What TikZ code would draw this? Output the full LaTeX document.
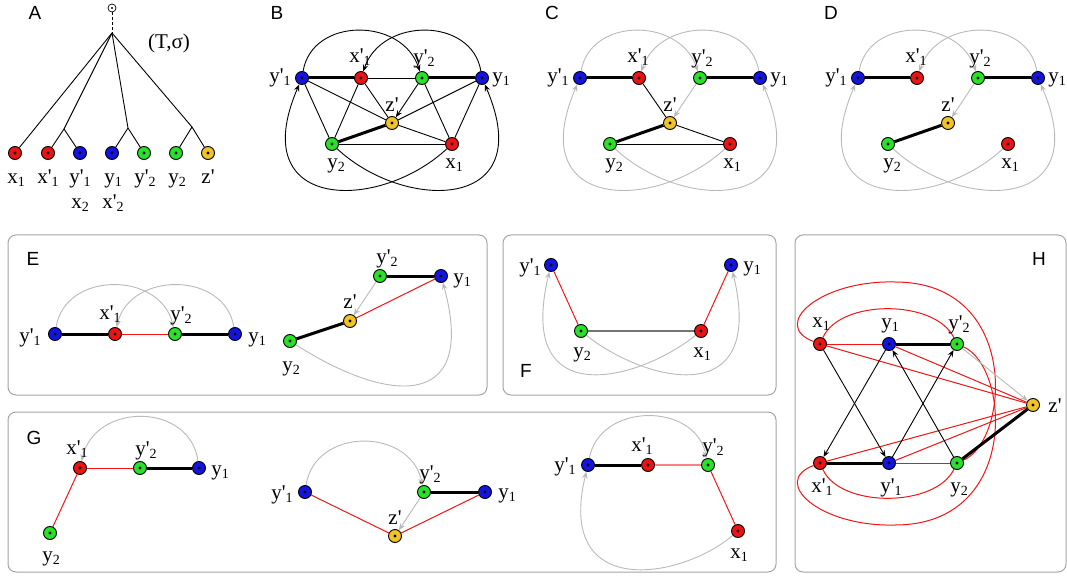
\documentclass[tikz,border=0pt]{standalone}
\usepackage{fontspec}
\setmainfont{Liberation Serif}
\newfontfamily\lettfont{Liberation Sans}
\usetikzlibrary{arrows.meta,backgrounds}

\definecolor{cnred}{RGB}{235,20,20}
\definecolor{cnblue}{RGB}{20,20,225}
\definecolor{cngreen}{RGB}{40,225,40}
\definecolor{cnyellow}{RGB}{240,195,40}
\definecolor{cegray}{RGB}{185,185,185}
\definecolor{cered}{RGB}{245,20,20}
\definecolor{celred}{RGB}{250,130,130}
\definecolor{cdgray}{RGB}{115,115,115}
\definecolor{cbgray}{RGB}{165,165,165}

\newcommand{\sbx}[1]{\raisebox{-3pt}{\fontsize{14}{14}\selectfont #1}}
\newcommand{\vlab}[2]{#1\sbx{#2}}
\newcommand{\vlabp}[2]{#1\textquotesingle\sbx{#2}}

\tikzset{
  vtx/.style={circle, draw=black, line width=0.9pt, minimum size=13pt, inner sep=0pt,
    path picture={\fill[black] (path picture bounding box.center) circle (1.6pt);}},
  vr/.style={vtx, fill=cnred},
  vb/.style={vtx, fill=cnblue},
  vg/.style={vtx, fill=cngreen},
  vy/.style={vtx, fill=cnyellow},
  rootv/.style={circle, draw=black, line width=0.7pt, minimum size=8pt, inner sep=0pt,
    path picture={\fill[black] (path picture bounding box.center) circle (1.2pt);}},
  lbl/.style={font=\fontsize{21}{24}\selectfont, inner sep=0pt, text height=10pt, text depth=0pt},
  letter/.style={font=\lettfont\fontsize{19}{22}\selectfont, inner sep=0pt},
  ethin/.style={line width=0.9pt, draw=black},
  ethick/.style={line width=3pt, draw=black},
  ered/.style={line width=1pt, draw=cered},
  elred/.style={line width=1.5pt, draw=celred},
  egr/.style={line width=0.9pt, draw=cegray},
  edg/.style={line width=2pt, draw=cdgray},
  arr/.style={-{Stealth[length=7pt,width=5.5pt,inset=2.5pt]}},
  panel/.style={draw=cbgray, line width=1pt, rounded corners=8pt}
}

\begin{document}
\begin{tikzpicture}[x=1pt,y=-1pt]
\useasboundingbox (0,0) rectangle (1067,577);

% ---------------- letters
\node[letter] (LA) at (35,13) {A};
\node[letter] (LB) at (277,13) {B};
\node[letter] (LC) at (552,13) {C};
\node[letter] (LD) at (831,13) {D};
\node[letter] (LE) at (33,259) {E};
\node[letter] (LF) at (526,371) {F};
\node[letter] (LG) at (34,438) {G};
\node[letter] (LH) at (1039,259) {H};

% ---------------- panel A
\node[rootv] (Aroot) at (112,8) {};
\coordinate (Abr) at (112,33);
\coordinate (Ap1) at (64,129);
\coordinate (Ap2) at (128,128);
\coordinate (Ap3) at (192,127);
\node[vr] (ALx1) at (15,153) {};
\node[vr] (ALxp1) at (48,153) {};
\node[vb] (ALyp1) at (80,153) {};
\node[vb] (ALy1) at (112,153) {};
\node[vg] (ALyp2) at (144,153) {};
\node[vg] (ALy2) at (176,153) {};
\node[vy] (ALz) at (208,153) {};
\node[lbl] (ATx1) at (16,179) {\vlab{x}{1}};
\node[lbl] (ATxp1) at (48,179) {\vlabp{x}{1}};
\node[lbl] (ATyp1) at (80,179) {\vlabp{y}{1}};
\node[lbl] (ATy1) at (113,179) {\vlab{y}{1}};
\node[lbl] (ATyp2) at (145,179) {\vlabp{y}{2}};
\node[lbl] (ATy2) at (177,179) {\vlab{y}{2}};
\node[lbl] (ATz) at (208,179) {z\textquotesingle};
\node[lbl] (ATx2) at (80,204) {\vlab{x}{2}};
\node[lbl] (ATxp2) at (113,204) {\vlabp{x}{2}};
\node[lbl] (ATts) at (169,44) {(T,σ)};

% ---------------- panels B, C, D nodes
\node[vb] (Byp1) at (302,78) {};
\node[vr] (Bxp1) at (361,78) {};
\node[vg] (Byp2) at (422,78) {};
\node[vb] (By1) at (482,78) {};
\node[vy] (Bz) at (392,123) {};
\node[vg] (By2) at (332,144) {};
\node[vr] (Bx1) at (452,144) {};
\node[lbl] (BTyp1) at (280,78) {\vlabp{y}{1}};
\node[lbl] (BTxp1) at (360,58) {\vlabp{x}{1}};
\node[lbl] (BTyp2) at (424,59) {\vlabp{y}{2}};
\node[lbl] (BTy1) at (501,78) {\vlab{y}{1}};
\node[lbl] (BTz) at (392,107) {z\textquotesingle};
\node[lbl] (BTy2) at (336,164) {\vlab{y}{2}};
\node[lbl] (BTx1) at (454,164) {\vlab{x}{1}};

\begin{scope}[xshift=278pt]
\node[vb] (Cyp1) at (302,78) {};
\node[vr] (Cxp1) at (361,78) {};
\node[vg] (Cyp2) at (422,78) {};
\node[vb] (Cy1) at (482,78) {};
\node[vy] (Cz) at (392,123) {};
\node[vg] (Cy2) at (332,144) {};
\node[vr] (Cx1) at (452,144) {};
\node[lbl] (CTyp1) at (280,78) {\vlabp{y}{1}};
\node[lbl] (CTxp1) at (360,58) {\vlabp{x}{1}};
\node[lbl] (CTyp2) at (424,59) {\vlabp{y}{2}};
\node[lbl] (CTy1) at (501,78) {\vlab{y}{1}};
\node[lbl] (CTz) at (392,107) {z\textquotesingle};
\node[lbl] (CTy2) at (336,164) {\vlab{y}{2}};
\node[lbl] (CTx1) at (454,164) {\vlab{x}{1}};
\end{scope}

\begin{scope}[xshift=556pt]
\node[vb] (Dyp1) at (302,78) {};
\node[vr] (Dxp1) at (361,78) {};
\node[vg] (Dyp2) at (422,78) {};
\node[vb] (Dy1) at (482,78) {};
\node[vy] (Dz) at (392,123) {};
\node[vg] (Dy2) at (332,144) {};
\node[vr] (Dx1) at (452,144) {};
\node[lbl] (DTyp1) at (280,78) {\vlabp{y}{1}};
\node[lbl] (DTxp1) at (360,58) {\vlabp{x}{1}};
\node[lbl] (DTyp2) at (424,59) {\vlabp{y}{2}};
\node[lbl] (DTy1) at (501,78) {\vlab{y}{1}};
\node[lbl] (DTz) at (392,107) {z\textquotesingle};
\node[lbl] (DTy2) at (336,164) {\vlab{y}{2}};
\node[lbl] (DTx1) at (454,164) {\vlab{x}{1}};
\end{scope}

% ---------------- panel E
\node[vb] (Eyp1) at (55,334) {};
\node[vr] (Exp1) at (115,334) {};
\node[vg] (Eyp2) at (175,334) {};
\node[vb] (Ey1) at (235,334) {};
\node[lbl] (ETyp1) at (30,337) {\vlabp{y}{1}};
\node[lbl] (ETxp1) at (110,314) {\vlabp{x}{1}};
\node[lbl] (ETyp2) at (181,315) {\vlabp{y}{2}};
\node[lbl] (ETy1) at (257,337) {\vlab{y}{1}};

\node[vg] (Eryp2) at (380,276) {};
\node[vb] (Ery1) at (441,276) {};
\node[vy] (Erz) at (350,321) {};
\node[vg] (Ery2) at (290,341) {};
\node[lbl] (ERTyp2) at (387,258) {\vlabp{y}{2}};
\node[lbl] (ERTy1) at (462,278) {\vlab{y}{1}};
\node[lbl] (ERTz) at (350,303) {z\textquotesingle};
\node[lbl] (ERTy2) at (291,366) {\vlab{y}{2}};

% ---------------- panel F
\node[vb] (Fyp1) at (551,265) {};
\node[vb] (Fy1) at (731,265) {};
\node[vg] (Fy2) at (581,331) {};
\node[vr] (Fx1) at (701,331) {};
\node[lbl] (FTyp1) at (530,267) {\vlabp{y}{1}};
\node[lbl] (FTy1) at (752,266) {\vlab{y}{1}};
\node[lbl] (FTy2) at (582,352) {\vlab{y}{2}};
\node[lbl] (FTx1) at (702,352) {\vlab{x}{1}};

% ---------------- panel G
\node[vr] (Gxp1) at (80,468) {};
\node[vg] (Gyp2) at (140,468) {};
\node[vb] (Gy1) at (199,468) {};
\node[vg] (Gy2) at (50,533) {};
\node[lbl] (GTxp1) at (77,449) {\vlabp{x}{1}};
\node[lbl] (GTyp2) at (146,450) {\vlabp{y}{2}};
\node[lbl] (GTy1) at (220,470) {\vlab{y}{1}};
\node[lbl] (GTy2) at (51,556) {\vlab{y}{2}};

\node[vb] (Gbyp1) at (305,492) {};
\node[vg] (Gbyp2) at (424,492) {};
\node[vb] (Gby1) at (485,492) {};
\node[vy] (Gbz) at (395,536) {};
\node[lbl] (GbTyp1) at (282,494) {\vlabp{y}{1}};
\node[lbl] (GbTyp2) at (430,474) {\vlabp{y}{2}};
\node[lbl] (GbTy1) at (507,493) {\vlab{y}{1}};
\node[lbl] (GbTz) at (395,519) {z\textquotesingle};

\node[vb] (Gcyp1) at (588,465) {};
\node[vr] (Gcxp1) at (648,465) {};
\node[vg] (Gcyp2) at (708,465) {};
\node[vr] (Gcx1) at (738,531) {};
\node[lbl] (GcTyp1) at (565,466) {\vlabp{y}{1}};
\node[lbl] (GcTxp1) at (642,446) {\vlabp{x}{1}};
\node[lbl] (GcTyp2) at (713,447) {\vlabp{y}{2}};
\node[lbl] (GcTx1) at (739,553) {\vlab{x}{1}};

% ---------------- panel H
\node[vr] (Hx1) at (820,344) {};
\node[vb] (Hy1) at (889,344) {};
\node[vg] (Hyp2) at (957,344) {};
\node[vy] (Hz) at (1033,405) {};
\node[vr] (Hxp1) at (820,463) {};
\node[vb] (Hyp1) at (889,463) {};
\node[vg] (Hy2) at (957,463) {};
\coordinate (Htop) at (895,282);
\coordinate (Hbot) at (895,525);
\node[lbl] (HTx1) at (821,322) {\vlab{x}{1}};
\node[lbl] (HTy1) at (890,323) {\vlab{y}{1}};
\node[lbl] (HTyp2) at (959,324) {\vlabp{y}{2}};
\node[lbl] (HTz) at (1055,407) {z\textquotesingle};
\node[lbl] (HTxp1) at (822,487) {\vlabp{x}{1}};
\node[lbl] (HTyp1) at (891,487) {\vlabp{y}{1}};
\node[lbl] (HTy2) at (959,487) {\vlab{y}{2}};

% ================= edges (background)
\begin{pgfonlayer}{background}
% panel boxes
\draw[panel] (8,235) rectangle (487,395);
\draw[panel] (503,235) rectangle (776,395);
\draw[panel] (8,412) rectangle (776,572);
\draw[panel] (795,235) rectangle (1066,572);

% A
\draw[ethin, dash pattern=on 3pt off 2pt] (Aroot) -- (Abr);
\draw[ethin] (Abr) -- (ALx1);
\draw[ethin] (Abr) -- (Ap1);
\draw[ethin] (Abr) -- (Ap2);
\draw[ethin] (Abr) -- (Ap3);
\draw[ethin] (Ap1) -- (ALxp1);
\draw[ethin] (Ap1) -- (ALyp1);
\draw[ethin] (Ap2) -- (ALy1);
\draw[ethin] (Ap2) -- (ALyp2);
\draw[ethin] (Ap3) -- (ALy2);
\draw[ethin] (Ap3) -- (ALz);

% B
\draw[ethin,arr] (Byp1) .. controls (312,17) and (402,17) .. (Byp2);
\draw[ethin,arr] (By1) .. controls (472,17) and (382,17) .. (Bxp1);
\draw[ethin,arr] (By2) .. controls (405,212) and (540,212) .. (By1);
\draw[ethin,arr] (Bx1) .. controls (379,212) and (244,212) .. (Byp1);
\draw[ethick] (Byp1) -- (Bxp1);
\draw[ethick] (Byp2) -- (By1);
\draw[ethick] (By2) -- (Bz);
\draw[ethin] (Bxp1) -- (Byp2);
\draw[ethin] (Byp1) -- (By2);
\draw[ethin] (Byp1) -- (Bz);
\draw[ethin] (Bxp1) -- (By2);
\draw[ethin] (Bxp1) -- (Bz);
\draw[ethin] (Byp2) -- (Bx1);
\draw[ethin] (By1) -- (Bz);
\draw[ethin] (By1) -- (Bx1);
\draw[ethin] (Bz) -- (Bx1);
\draw[ethin] (By2) -- (Bx1);
\draw[ethin,arr] (Byp2) -- (Bz);

% C
\begin{scope}[xshift=278pt]
\draw[egr,arr] (Cyp1) .. controls (312,17) and (402,17) .. (Cyp2);
\draw[egr,arr] (Cy1) .. controls (472,17) and (382,17) .. (Cxp1);
\draw[egr,arr] (Cy2) .. controls (405,212) and (540,212) .. (Cy1);
\draw[egr,arr] (Cx1) .. controls (379,212) and (244,212) .. (Cyp1);
\end{scope}
\draw[ethick] (Cyp1) -- (Cxp1);
\draw[ethick] (Cyp2) -- (Cy1);
\draw[ethick] (Cy2) -- (Cz);
\draw[ethin] (Cxp1) -- (Cz);
\draw[ethin] (Cz) -- (Cx1);
\draw[ethin] (Cy2) -- (Cx1);
\draw[egr,arr] (Cyp2) -- (Cz);

% D
\begin{scope}[xshift=556pt]
\draw[egr,arr] (Dyp1) .. controls (312,17) and (402,17) .. (Dyp2);
\draw[egr,arr] (Dy1) .. controls (472,17) and (382,17) .. (Dxp1);
\draw[egr,arr] (Dy2) .. controls (405,212) and (540,212) .. (Dy1);
\draw[egr,arr] (Dx1) .. controls (379,212) and (244,212) .. (Dyp1);
\end{scope}
\draw[ethick] (Dyp1) -- (Dxp1);
\draw[ethick] (Dyp2) -- (Dy1);
\draw[ethick] (Dy2) -- (Dz);
\draw[egr,arr] (Dyp2) -- (Dz);

% E
\draw[egr,arr] (Eyp1) .. controls (65,271) and (160,271) .. (Eyp2);
\draw[egr,arr] (Ey1) .. controls (225,271) and (130,271) .. (Exp1);
\draw[ethick] (Eyp1) -- (Exp1);
\draw[ered] (Exp1) -- (Eyp2);
\draw[ethick] (Eyp2) -- (Ey1);
\draw[ethick] (Eryp2) -- (Ery1);
\draw[ered] (Erz) -- (Ery1);
\draw[ethick] (Ery2) -- (Erz);
\draw[egr,arr] (Eryp2) -- (Erz);
\draw[egr,arr] (Ery2) .. controls (390,405) and (478,410) .. (Ery1);

% F
\draw[egr,arr] (Fx1) .. controls (640,380) and (515,415) .. (Fyp1);
\draw[egr,arr] (Fy2) .. controls (642,380) and (767,415) .. (Fy1);
\draw[ered] (Fyp1) -- (Fy2);
\draw[ered] (Fx1) -- (Fy1);
\draw[edg] (Fy2) -- (Fx1);

% G
\draw[egr,arr] (Gy1) .. controls (190,402) and (95,402) .. (Gxp1);
\draw[ered] (Gxp1) -- (Gyp2);
\draw[ethick] (Gyp2) -- (Gy1);
\draw[ered] (Gxp1) -- (Gy2);

\draw[egr,arr] (Gbyp1) .. controls (315,427) and (410,427) .. (Gbyp2);
\draw[ered] (Gbyp1) -- (Gbz);
\draw[ered] (Gbz) -- (Gby1);
\draw[ethick] (Gbyp2) -- (Gby1);
\draw[egr,arr] (Gbyp2) -- (Gbz);

\draw[egr,arr] (Gcyp1) .. controls (600,402) and (695,402) .. (Gcyp2);
\draw[egr,arr] (Gcx1) .. controls (680,580) and (555,600) .. (Gcyp1);
\draw[ethick] (Gcyp1) -- (Gcxp1);
\draw[elred] (Gcxp1) -- (Gcyp2);
\draw[ered] (Gcyp2) -- (Gcx1);

% H
\draw[ered] (Hx1) .. controls (770,325) and (820,280) .. (Htop) .. controls (1020,282) and (1010,440) .. (Hy2);
\draw[ered] (Hxp1) .. controls (770,482) and (820,527) .. (Hbot) .. controls (1020,525) and (1010,367) .. (Hyp2);
\draw[ered] (Hx1) .. controls (840,299) and (935,299) .. (Hyp2);
\draw[ered] (Hxp1) .. controls (840,508) and (935,508) .. (Hy2);
\draw[ered] (Hx1) -- (Hy1);
\draw[ered] (Hx1) -- (Hz);
\draw[ered] (Hy1) -- (Hz);
\draw[ered] (Hxp1) -- (Hz);
\draw[ered] (Hyp1) -- (Hz);
\draw[ered] (Hyp1) -- (Hy2);
\draw[egr,arr] (Hyp2) -- (Hz);
\draw[ethick] (Hy1) -- (Hyp2);
\draw[ethick] (Hxp1) -- (Hyp1);
\draw[ethick] (Hy2) -- (Hz);
\draw[ethin,arr] (Hx1) -- (Hyp1);
\draw[ethin,arr] (Hy1) -- (Hxp1);
\draw[ethin,arr] (Hyp1) -- (Hyp2);
\draw[ethin,arr] (Hy2) -- (Hy1);
\end{pgfonlayer}
\end{tikzpicture}
\end{document}
